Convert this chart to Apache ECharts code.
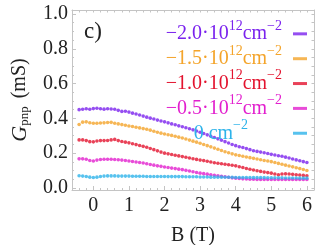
<!DOCTYPE html>
<html>
<head>
<meta charset="utf-8">
<script src="https://cdn.jsdelivr.net/npm/echarts@6/dist/echarts.min.js"></script>
<style>
html,body{margin:0;padding:0;background:#fff;}
#chart{width:327px;height:245px;}
</style>
</head>
<body>
<div id="chart"></div>
<script>
// Magnetic field B (T)
var fieldB = [-0.4,-0.3,-0.2,-0.1,0.0,0.1,0.2,0.3,0.4,0.5,0.6,0.7,0.8,0.9,1.0,1.1,1.2,1.3,1.4,1.5,1.6,1.7,1.8,1.9,2.0,2.1,2.2,2.3,2.4,2.5,2.6,2.7,2.8,2.9,3.0,3.1,3.2,3.3,3.4,3.5,3.6,3.7,3.8,3.9,4.0,4.1,4.2,4.3,4.4,4.5,4.6,4.7,4.8,4.9,5.0,5.1,5.2,5.3,5.4,5.5,5.6,5.7,5.8,5.9,6.0];

var seriesNames = ['n20','n15','n10','n05','n00'];
var seriesColors = ['#7a22ee','#f4a42a','#e3132e','#e21fce','#2db3ea'];

var gN20 = [.450,.452,.455,.452,.456,.458,.455,.453,.455,.454,.452,.446,.440,.441,.436,.430,.425,.419,.413,.407,.401,.396,.390,.385,.380,.374,.368,.363,.357,.352,.346,.340,.334,.327,.320,.313,.305,.297,.290,.282,.274,.266,.258,.250,.243,.237,.232,.226,.220,.214,.210,.206,.202,.198,.193,.189,.185,.182,.177,.172,.166,.161,.156,.151,.146];
var gN15 = [.365,.378,.380,.375,.372,.372,.373,.374,.376,.377,.372,.368,.364,.360,.356,.353,.349,.345,.341,.337,.332,.326,.320,.315,.310,.306,.302,.297,.292,.287,.281,.275,.269,.263,.257,.250,.243,.236,.229,.222,.215,.208,.202,.196,.190,.186,.182,.178,.174,.170,.166,.162,.158,.155,.151,.146,.141,.136,.131,.126,.121,.116,.111,.106,.100];
var gN10 = [.276,.276,.272,.266,.265,.270,.272,.272,.273,.276,.279,.272,.267,.263,.259,.254,.249,.244,.239,.234,.227,.220,.213,.206,.200,.196,.192,.188,.184,.180,.176,.172,.168,.164,.160,.157,.153,.149,.145,.142,.139,.136,.133,.130,.127,.122,.117,.112,.107,.103,.099,.095,.091,.088,.085,.080,.076,.080,.081,.080,.078,.076,.074,.072,.070];
var gN05 = [.167,.167,.165,.158,.155,.160,.163,.165,.165,.165,.163,.162,.160,.158,.155,.152,.149,.146,.143,.139,.135,.131,.127,.124,.120,.117,.114,.111,.108,.105,.101,.097,.093,.089,.085,.082,.079,.076,.073,.070,.067,.064,.061,.058,.056,.054,.052,.051,.050,.050,.049,.049,.049,.048,.048,.048,.048,.048,.048,.048,.048,.048,.048,.048,.048];
var gN00 = [.070,.068,.066,.062,.060,.062,.066,.068,.069,.069,.069,.068,.068,.068,.068,.067,.067,.067,.067,.066,.066,.066,.066,.066,.066,.065,.065,.065,.065,.065,.064,.064,.064,.064,.063,.063,.063,.062,.062,.062,.062,.061,.061,.061,.060,.060,.060,.060,.060,.059,.059,.059,.059,.058,.058,.058,.058,.058,.057,.057,.057,.057,.056,.056,.056];

var legendTexts = {
  n20: '\u22122.0\u00b710{s|12}cm{s|\u22122}',
  n15: '\u22121.5\u00b710{s|12}cm{s|\u22122}',
  n10: '\u22121.0\u00b710{s|12}cm{s|\u22122}',
  n05: '\u22120.5\u00b710{s|12}cm{s|\u22122}',
  n00: '0 cm{s|\u22122}'
};

var xMajor = [0,1,2,3,4,5,6];
var xMinor = [-0.4,-0.2,0,0.2,0.4,0.6,0.8,1,1.2,1.4,1.6,1.8,2,2.2,2.4,2.6,2.8,3,3.2,3.4,3.6,3.8,4,4.2,4.4,4.6,4.8,5,5.2,5.4,5.6,5.8,6];
var yMajor = [0,0.2,0.4,0.6,0.8,1.0];
var yMinor = [0,0.05,0.1,0.15,0.2,0.25,0.3,0.35,0.4,0.45,0.5,0.55,0.6,0.65,0.7,0.75,0.8,0.85,0.9,0.95,1.0];

var allData = [gN20, gN15, gN10, gN05, gN00];

var FONT = '"Liberation Serif", "DejaVu Serif", serif';
var FRAME = '#c4c4c4';

function pairs(ys){ return fieldB.map(function(b,i){ return [b, ys[i]]; }); }

var series = seriesNames.map(function(n, k){
  return {
    name: n, type: 'scatter', xAxisIndex: 0, yAxisIndex: 0,
    symbol: 'circle', symbolSize: 3.6,
    itemStyle: { color: seriesColors[k] },
    data: pairs(allData[k]),
    silent: true, animation: false
  };
});

function xAx(extra){
  var base = { type: 'value', min: -0.6, max: 6.2, splitLine: { show: false }, axisLabel: { show: false } };
  for (var k in extra) base[k] = extra[k];
  return base;
}
function yAx(extra){
  var base = { type: 'value', min: -0.012, max: 1.023, splitLine: { show: false }, axisLabel: { show: false } };
  for (var k in extra) base[k] = extra[k];
  return base;
}

var chart = echarts.init(document.getElementById('chart'), null, {renderer: 'canvas'});
chart.setOption({
  animation: false,
  backgroundColor: '#fff',
  title: {
    text: 'c)', left: 79, top: 15,
    textStyle: { fontFamily: FONT, fontSize: 23, fontWeight: 'normal', color: '#222' }
  },
  grid: { left: 72, right: 13, top: 10, bottom: 55, outerBoundsMode: 'none', containLabel: false },
  legend: {
    orient: 'vertical', align: 'right', right: 20, top: 19, padding: 0,
    itemGap: 0, itemWidth: 14, itemHeight: 3, icon: 'rect',
    data: seriesNames.map(function(n,k){
      return { name: n, textStyle: { color: seriesColors[k], padding: [0, (n === 'n00' ? 40 : 6), 0, 0] } };
    }),
    formatter: function(n){ return legendTexts[n]; },
    textStyle: {
      fontFamily: FONT, fontSize: 20, lineHeight: 17.7,
      rich: { s: { fontFamily: FONT, fontSize: 14, verticalAlign: 'top', padding: [-6, 0, 0, 0] } }
    },
    selectedMode: false
  },
  xAxis: [
    xAx({ position: 'bottom',
      name: 'B (T)', nameLocation: 'middle', nameGap: 36,
      nameTextStyle: { fontFamily: FONT, fontSize: 20, color: '#222' },
      axisLine: { show: true, onZero: false, lineStyle: { color: FRAME, width: 1 } },
      axisTick: { show: true, inside: true, length: 4, customValues: xMajor, lineStyle: { color: FRAME } },
      axisLabel: { show: true, customValues: xMajor, margin: 6, fontFamily: FONT, fontSize: 20, color: '#222', formatter: function(v){ return String(Math.round(v)); } } }),
    xAx({ position: 'bottom',
      axisLine: { show: false, onZero: false },
      axisTick: { show: true, inside: true, length: 2, customValues: xMinor, lineStyle: { color: FRAME } } }),
    xAx({ position: 'top',
      axisLine: { show: true, onZero: false, lineStyle: { color: FRAME, width: 1 } },
      axisTick: { show: true, inside: true, length: 2.5, customValues: xMinor, lineStyle: { color: FRAME } } })
  ],
  yAxis: [
    yAx({ position: 'left',
      name: '{i|G}{sub|pnp} (mS)', nameLocation: 'middle', nameGap: 41, nameRotate: 90,
      nameTextStyle: { fontFamily: FONT, fontSize: 20, color: '#222',
        rich: { i: { fontFamily: FONT, fontSize: 22, fontStyle: 'italic', color: '#222' },
                sub: { fontFamily: FONT, fontSize: 13, color: '#222', verticalAlign: 'bottom', padding: [7,3,0,0] } } },
      axisLine: { show: true, onZero: false, lineStyle: { color: FRAME, width: 1 } },
      axisTick: { show: true, inside: true, length: 4, customValues: yMajor, lineStyle: { color: FRAME } },
      axisLabel: { show: true, customValues: yMajor, margin: 4, fontFamily: FONT, fontSize: 20, color: '#222', formatter: function(v){ return v.toFixed(1); } } }),
    yAx({ position: 'left',
      axisLine: { show: false, onZero: false },
      axisTick: { show: true, inside: true, length: 2, customValues: yMinor, lineStyle: { color: FRAME } } }),
    yAx({ position: 'right',
      axisLine: { show: true, onZero: false, lineStyle: { color: FRAME, width: 1 } },
      axisTick: { show: true, inside: true, length: 2.5, customValues: yMinor, lineStyle: { color: FRAME } } })
  ],
  series: series
});
</script>
</body>
</html>
